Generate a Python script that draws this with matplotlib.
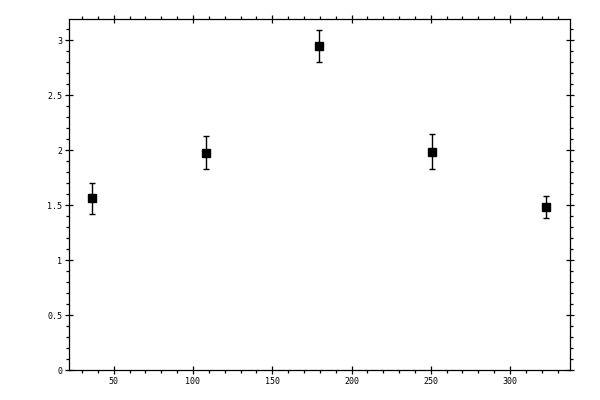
import matplotlib
matplotlib.use("Agg")
import matplotlib.pyplot as plt
from matplotlib.ticker import MultipleLocator, FormatStrFormatter

x_vals = [36.3, 108.2, 179.4, 250.7, 322.6]
y_vals = [1.56, 1.975, 2.95, 1.985, 1.48]
y_err = [0.14, 0.15, 0.145, 0.16, 0.10]

fig = plt.figure(figsize=(6, 4), dpi=100)
ax = fig.add_axes([0.1155, 0.075, 0.835, 0.877])

ax.errorbar(x_vals, y_vals, yerr=y_err, fmt='s', color='black', markersize=5.5,
            ecolor='black', elinewidth=1.0, capsize=2.0, capthick=1.0)

ax.set_xlim(22, 338)
ax.set_ylim(0, 3.19)

ax.xaxis.set_major_locator(MultipleLocator(50))
ax.xaxis.set_minor_locator(MultipleLocator(10))
ax.yaxis.set_major_locator(MultipleLocator(0.5))
ax.yaxis.set_minor_locator(MultipleLocator(0.1))

def yfmt(v, pos):
    s = ('%g' % v)
    return s
ax.yaxis.set_major_formatter(plt.FuncFormatter(yfmt))

for s in ax.spines.values():
    s.set_linewidth(0.9)

ax.tick_params(which='major', direction='inout', length=6, width=0.9,
               top=True, right=True, labelsize=6, pad=2)
ax.tick_params(which='minor', direction='out', length=2.5, width=0.9,
               top=True, right=True)
for lab in ax.get_xticklabels() + ax.get_yticklabels():
    lab.set_family('DejaVu Sans Mono')

fig.savefig("out.png", dpi=100)
